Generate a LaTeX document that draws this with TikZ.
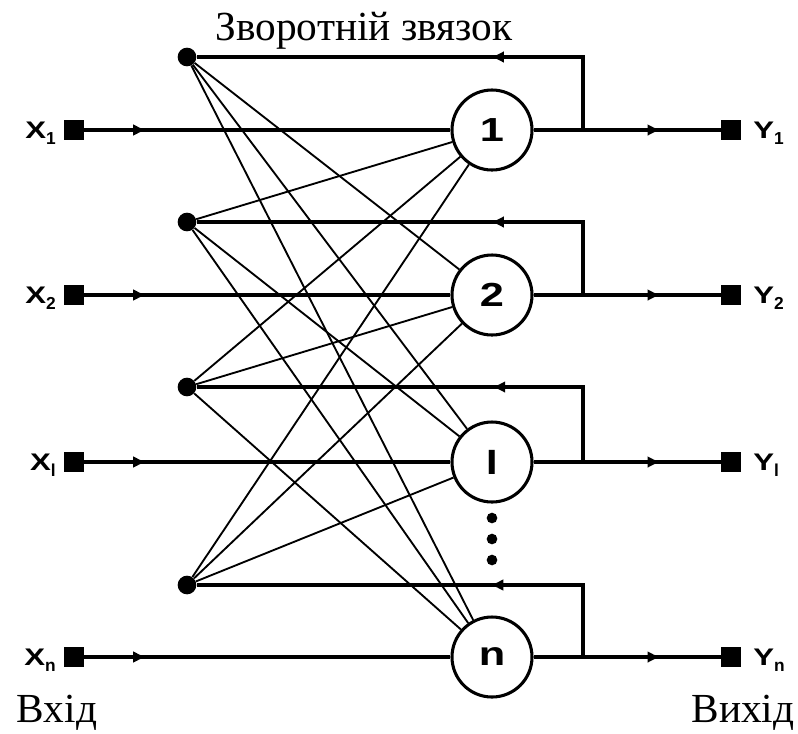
\documentclass[tikz,border=0pt]{standalone}
\usepackage{fontspec}
\setmainfont{Liberation Serif}
\newfontfamily\signfont{Liberation Sans}
\usepackage{graphicx}
\usetikzlibrary{positioning, arrows.meta, decorations.markings}

\newcommand{\wide}[1]{\scalebox{1.3}[1]{#1}}
\newcommand{\idx}[1]{\raisebox{-4.5pt}{\fontsize{13}{13}\selectfont #1}}

\begin{document}
\begin{tikzpicture}[
    x=0.75pt, y=-0.75pt,
    neuron/.style={circle, draw, line width=2.3pt, minimum size=60pt, inner sep=0pt, fill=white, font=\signfont\bfseries\fontsize{25}{25}\selectfont},
    port/.style={rectangle, fill=black, minimum size=15pt, inner sep=0pt},
    junction/.style={circle, fill=black, minimum size=14pt, inner sep=0pt},
    ellip/.style={circle, fill=black, minimum size=8pt, inner sep=0pt},
    sig/.style={inner sep=0pt, font=\signfont\bfseries\fontsize{18}{18}\selectfont},
    caption/.style={inner sep=0pt, font=\fontsize{31}{31}\selectfont},
    wire/.style={line width=2.6pt},
    link/.style={line width=1.4pt},
    arrow at/.style={postaction={decorate}, decoration={markings, mark=at position #1 with {\arrow{Latex[length=10pt, width=9pt]}}}}
]
\useasboundingbox (0,0) rectangle (798,733);

% Neurons
\node[neuron] (n1) at (492,130) {\wide{1}};
\node[neuron] (n2) at (492,295) {\wide{2}};
\node[neuron] (nl) at (492,462) {\wide{l}};
\node[neuron] (nn) at (492,657) {\wide{n}};

% Ellipsis between l and n
\node[ellip] (e1) at (492,518) {};
\node[ellip] (e2) at (492,539) {};
\node[ellip] (e3) at (492,560) {};

% Inputs
\node[port] (x1) at (74,130) {};
\node[port] (x2) at (74,295) {};
\node[port] (xl) at (74,462) {};
\node[port] (xn) at (74,657) {};
\node[sig, anchor=base east] (lx1) at (56,138) {\wide{X}\idx{1}};
\node[sig, anchor=base east] (lx2) at (56,303) {\wide{X}\idx{2}};
\node[sig, anchor=base east] (lxl) at (56,470) {\wide{X}\idx{l}};
\node[sig, anchor=base east] (lxn) at (56,665) {\wide{X}\idx{n}};

% Outputs
\node[port] (y1) at (731,130) {};
\node[port] (y2) at (731,295) {};
\node[port] (yl) at (731,462) {};
\node[port] (yn) at (731,657) {};
\node[sig, anchor=base west] (ly1) at (753,138) {\wide{Y}\idx{1}};
\node[sig, anchor=base west] (ly2) at (753,303) {\wide{Y}\idx{2}};
\node[sig, anchor=base west] (lyl) at (753,470) {\wide{Y}\idx{l}};
\node[sig, anchor=base west] (lyn) at (753,665) {\wide{Y}\idx{n}};

% Feedback junctions and branch points
\node[junction] (d1) at (187,57) {};
\node[junction] (d2) at (187,222) {};
\node[junction] (d3) at (187,387) {};
\node[junction] (d4) at (187,585) {};
\coordinate (b1) at (583,130);
\coordinate (b2) at (583,295);
\coordinate (bl) at (583,462);
\coordinate (bn) at (583,657);

% Captions
\node[caption, anchor=base] (fb) at (364,40) {Зворотній звязок};
\node[caption, anchor=base] (vin) at (57,722) {Вхід};
\node[caption, anchor=base] (vout) at (743,722) {Вихід};

% Signal lines
\draw[wire, arrow at=0.17] (x1) -- (n1);
\draw[wire, arrow at=0.17] (x2) -- (n2);
\draw[wire, arrow at=0.17] (xl) -- (nl);
\draw[wire, arrow at=0.17] (xn) -- (nn);
\draw[wire, arrow at=0.68] (n1) -- (y1);
\draw[wire, arrow at=0.68] (n2) -- (y2);
\draw[wire, arrow at=0.68] (nl) -- (yl);
\draw[wire, arrow at=0.68] (nn) -- (yn);

% Feedback loops
\draw[wire, arrow at=0.36] (b1) |- (d1);
\draw[wire, arrow at=0.36] (b2) |- (d2);
\draw[wire, arrow at=0.36] (bl) |- (d3);
\draw[wire, arrow at=0.36] (bn) |- (d4);

% Cross connections
\draw[link] (d1) -- (n2);
\draw[link] (d1) -- (nl);
\draw[link] (d1) -- (nn);
\draw[link] (d2) -- (n1);
\draw[link] (d2) -- (nl);
\draw[link] (d2) -- (nn);
\draw[link] (d3) -- (n1);
\draw[link] (d3) -- (n2);
\draw[link] (d3) -- (nn);
\draw[link] (d4) -- (n1);
\draw[link] (d4) -- (n2);
\draw[link] (d4) -- (nl);

\end{tikzpicture}
\end{document}
